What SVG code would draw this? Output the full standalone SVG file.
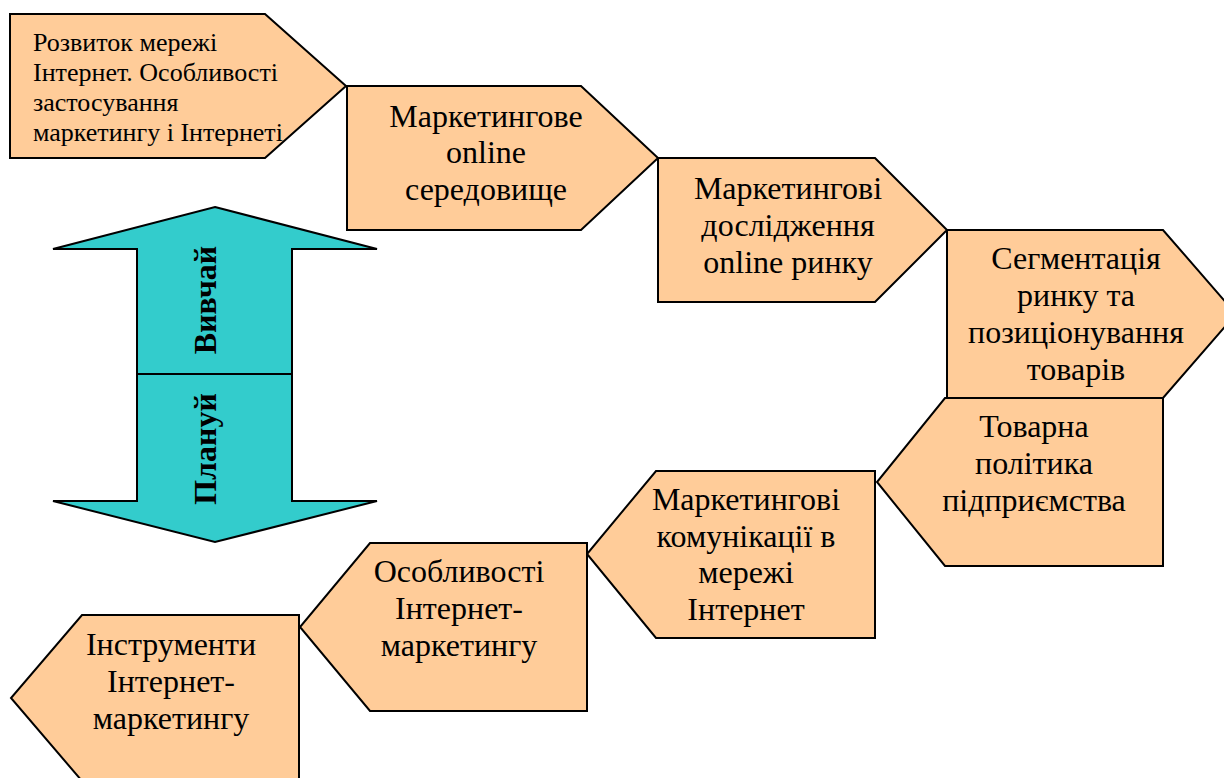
<svg xmlns="http://www.w3.org/2000/svg" width="1224" height="778" viewBox="0 0 1224 778">
<style>
.box{fill:#FFCC99;stroke:#000;stroke-width:2;stroke-linejoin:miter}
.arr{fill:#33CCCC;stroke:#000;stroke-width:2}
.t{font-family:"Liberation Serif","Times New Roman",serif;font-size:32px;fill:#000;text-anchor:middle}
.s{font-family:"Liberation Serif","Times New Roman",serif;font-size:26px;fill:#000}
.b{font-family:"Liberation Serif","Times New Roman",serif;font-size:32px;font-weight:bold;fill:#000;text-anchor:middle}
</style>
<rect width="1224" height="778" fill="#fff"/>
<g id="cycle">
<polygon class="arr" points="215,207 377,249 292,249 292,501 377,501 215,542 53,501 137,501 137,249 53,249"/>
<line x1="137" y1="374" x2="292" y2="374" stroke="#000" stroke-width="2"/>
<text class="b" transform="translate(216,300) rotate(-90)">Вивчай</text>
<text class="b" transform="translate(216,449) rotate(-90)">Плануй</text>
</g>
<g id="connectors"></g>
<g id="n1">
<polygon class="box" points="10,14 265,14 346,86 265,158 10,158"/>
<text class="s" x="33" y="51">Розвиток мережі</text>
<text class="s" x="33" y="81">Інтернет. Особливості</text>
<text class="s" x="33" y="111">застосування</text>
<text class="s" x="33" y="141">маркетингу і Інтернеті</text>
</g>
<g id="n2">
<polygon class="box" points="347,86 581,86 658,158 581,230 347,230"/>
<text class="t" x="486" y="127">Маркетингове</text>
<text class="t" x="486" y="163">online</text>
<text class="t" x="486" y="200">середовище</text>
</g>
<g id="n3">
<polygon class="box" points="658,158 875,158 947,230 875,302 658,302"/>
<text class="t" x="788" y="199">Маркетингові</text>
<text class="t" x="788" y="236">дослідження</text>
<text class="t" x="788" y="273">online ринку</text>
</g>
<g id="n4">
<polygon class="box" points="947,230 1163,230 1236,314 1163,398 947,398"/>
<text class="t" x="1076" y="269">Сегментація</text>
<text class="t" x="1076" y="306">ринку та</text>
<text class="t" x="1076" y="343">позиціонування</text>
<text class="t" x="1076" y="380">товарів</text>
</g>
<g id="n5">
<polygon class="box" points="945,398 1163,398 1163,566 945,566 877,482"/>
<text class="t" x="1034" y="437">Товарна</text>
<text class="t" x="1034" y="474">політика</text>
<text class="t" x="1034" y="511">підприємства</text>
</g>
<g id="n6">
<polygon class="box" points="656,471 875,471 875,638 656,638 587,554"/>
<text class="t" x="746" y="510">Маркетингові</text>
<text class="t" x="746" y="547">комунікації в</text>
<text class="t" x="746" y="583">мережі</text>
<text class="t" x="746" y="620">Інтернет</text>
</g>
<g id="n7">
<polygon class="box" points="370,543 587,543 587,711 370,711 300,627"/>
<text class="t" x="459" y="582">Особливості</text>
<text class="t" x="459" y="619">Інтернет-</text>
<text class="t" x="459" y="656">маркетингу</text>
</g>
<g id="n8">
<polygon class="box" points="82,615 299,615 299,781 82,781 11,698"/>
<text class="t" x="171" y="655">Інструменти</text>
<text class="t" x="171" y="692">Інтернет-</text>
<text class="t" x="171" y="729">маркетингу</text>
</g>
</svg>
